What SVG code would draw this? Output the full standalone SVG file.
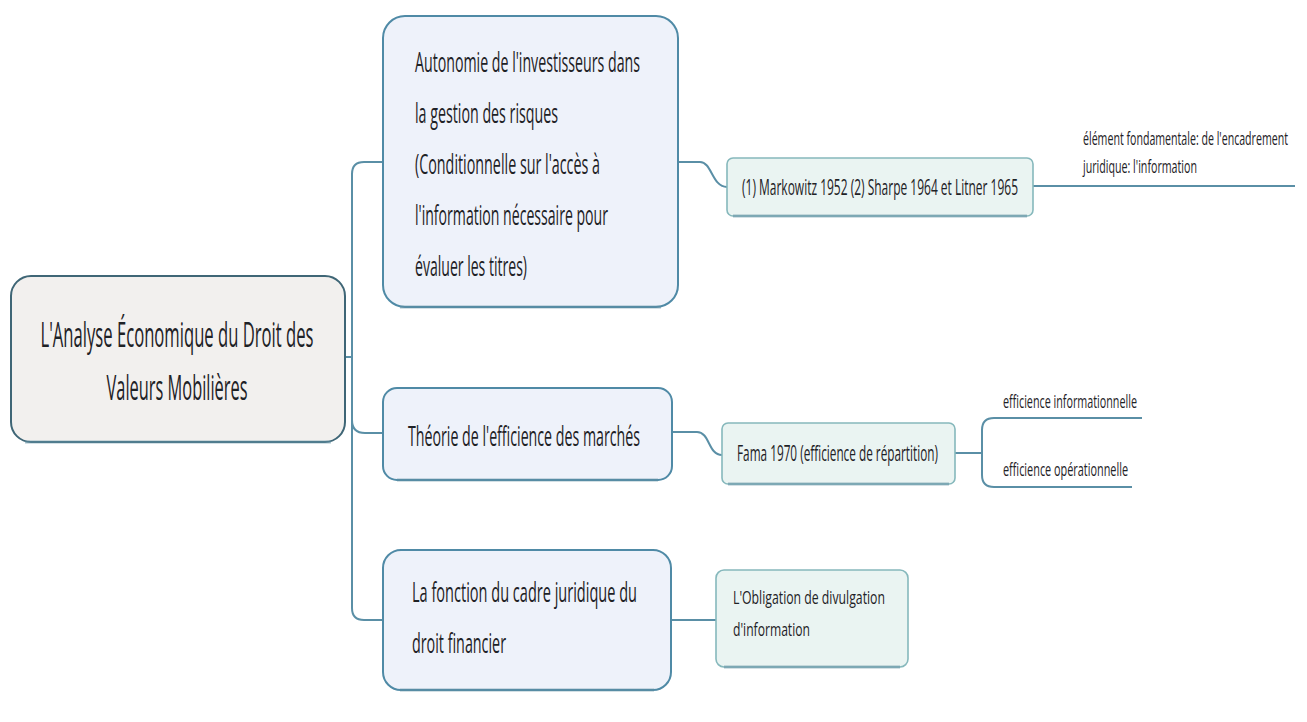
<svg xmlns="http://www.w3.org/2000/svg" width="1307" height="722" viewBox="0 0 1307 722">
<style>
  .t{font-family:"Open Sans","Liberation Sans",sans-serif;fill:#1e2226;}
  .root{fill:#f2f0ee;stroke:#3f6676;stroke-width:2;}
  .main{fill:#eef2fa;stroke:#4f8aa6;stroke-width:2;}
  .sub{fill:#eaf4f2;stroke:#86b8bc;stroke-width:1.6;}
  .sh{fill:none;stroke:#5f8ea3;stroke-width:3;opacity:0.55;}
  .c{fill:none;stroke:#5a8fa6;stroke-width:2;}
</style>
<rect width="1307" height="722" fill="#ffffff"/>
<g id="connectors">
  <path class="c" d="M346,357 H352"/>
  <path class="c" d="M384,162 H364 Q352,162 352,174 V608 Q352,620 364,620 H383"/>
  <path class="c" d="M352,420 Q352,433 365,433 H383"/>
  <path class="c" d="M678,162 H700 C712,162 712,187 727,187"/>
  <path class="c" d="M672,432 H697 C710,432 708,455 722,455"/>
  <path class="c" d="M671,620 H716"/>
  <path class="c" d="M1033,186 H1295"/>
  <path class="c" d="M955,453 H982"/>
  <path class="c" d="M1142,418 H994 Q982,418 982,430 V475 Q982,487 994,487 H1132"/>
</g>
<g id="root">
  <rect class="root" x="11" y="276" width="334" height="166" rx="20"/>
  <path class="sh" d="M25,442 H331"/>
  <text class="t" transform="translate(177,347) scale(0.5,1)" font-size="34" text-anchor="middle" textLength="546" lengthAdjust="spacingAndGlyphs">L'Analyse Économique du Droit des</text>
  <text class="t" transform="translate(177,400) scale(0.5,1)" font-size="34" text-anchor="middle" textLength="282" lengthAdjust="spacingAndGlyphs">Valeurs Mobilières</text>
</g>
<g id="n-autonomie">
  <rect class="main" x="383" y="16" width="295" height="291" rx="22"/>
  <path class="sh" d="M400,307 H661"/>
  <text class="t" transform="translate(415,72) scale(0.5,1)" font-size="27" textLength="450" lengthAdjust="spacingAndGlyphs">Autonomie de l'investisseurs dans</text>
  <text class="t" transform="translate(415,123) scale(0.5,1)" font-size="27" textLength="286" lengthAdjust="spacingAndGlyphs">la gestion des risques</text>
  <text class="t" transform="translate(415,174) scale(0.5,1)" font-size="27" textLength="370" lengthAdjust="spacingAndGlyphs">(Conditionnelle sur l'accès à</text>
  <text class="t" transform="translate(415,225) scale(0.5,1)" font-size="27" textLength="386" lengthAdjust="spacingAndGlyphs">l'information nécessaire pour</text>
  <text class="t" transform="translate(415,276) scale(0.5,1)" font-size="27" textLength="224" lengthAdjust="spacingAndGlyphs">évaluer les titres)</text>
</g>
<g id="n-markowitz">
  <rect class="sub" x="727" y="158" width="306" height="58" rx="6"/>
  <path class="sh" d="M733,216 H1027"/>
  <text class="t" transform="translate(742,195) scale(0.5,1)" font-size="21" textLength="552" lengthAdjust="spacingAndGlyphs">(1) Markowitz 1952 (2) Sharpe 1964 et Litner 1965</text>
</g>
<g id="n-element">
  <text class="t" transform="translate(1083,145) scale(0.5,1)" font-size="18" textLength="410" lengthAdjust="spacingAndGlyphs">élément fondamentale: de l'encadrement</text>
  <text class="t" transform="translate(1083,173) scale(0.5,1)" font-size="18" textLength="228" lengthAdjust="spacingAndGlyphs">juridique: l'information</text>
</g>
<g id="n-theorie">
  <rect class="main" x="383" y="388" width="289" height="92" rx="14"/>
  <path class="sh" d="M397,480 H658"/>
  <text class="t" transform="translate(408,446) scale(0.5,1)" font-size="27" textLength="464" lengthAdjust="spacingAndGlyphs">Théorie de l'efficience des marchés</text>
</g>
<g id="n-fama">
  <rect class="sub" x="722" y="423" width="233" height="61" rx="6"/>
  <path class="sh" d="M728,484 H949"/>
  <text class="t" transform="translate(737,461) scale(0.5,1)" font-size="21" textLength="402" lengthAdjust="spacingAndGlyphs">Fama 1970 (efficience de répartition)</text>
</g>
<g id="n-info">
  <text class="t" transform="translate(1003,408) scale(0.5,1)" font-size="19" textLength="268" lengthAdjust="spacingAndGlyphs">efficience informationnelle</text>
</g>
<g id="n-oper">
  <text class="t" transform="translate(1003,476) scale(0.5,1)" font-size="19" textLength="250" lengthAdjust="spacingAndGlyphs">efficience opérationnelle</text>
</g>
<g id="n-fonction">
  <rect class="main" x="383" y="550" width="288" height="140" rx="18"/>
  <path class="sh" d="M400,690 H654"/>
  <text class="t" transform="translate(412,602) scale(0.5,1)" font-size="27" textLength="450" lengthAdjust="spacingAndGlyphs">La fonction du cadre juridique du</text>
  <text class="t" transform="translate(412,653) scale(0.5,1)" font-size="27" textLength="188" lengthAdjust="spacingAndGlyphs">droit financier</text>
</g>
<g id="n-obligation">
  <rect class="sub" x="716" y="570" width="192" height="97" rx="8"/>
  <path class="sh" d="M724,667 H900"/>
  <text class="t" transform="translate(733,604) scale(0.5,1)" font-size="19" textLength="304" lengthAdjust="spacingAndGlyphs">L'Obligation de divulgation</text>
  <text class="t" transform="translate(733,636) scale(0.5,1)" font-size="19" textLength="154" lengthAdjust="spacingAndGlyphs">d'information</text>
</g>
</svg>
